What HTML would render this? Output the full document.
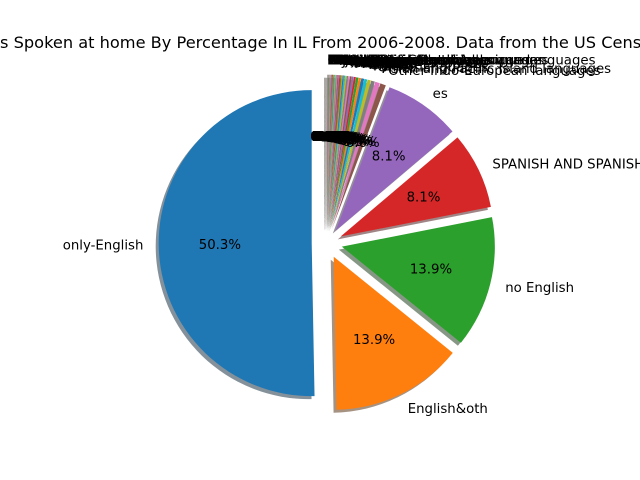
<!DOCTYPE html>
<html><head><meta charset="utf-8"><style>
body{margin:0;background:#fff}
svg{display:block;font-family:"DejaVu Sans","Liberation Sans",sans-serif}
</style></head><body>
<svg id="chart" width="640" height="480" viewBox="0 0 640 480">
<rect width="640" height="480" fill="#fff"/>
<text x="290" y="48" font-size="16.2" text-anchor="middle" fill="#000">Languages Spoken at home By Percentage In IL From 2006-2008. Data from the US Census</text>
<g id="wedges"></g>
<g id="labels"></g>
</svg>
<script>
const categories = ["only-English","English&oth","no English","SPANISH AND SPANISH CREOLE","es",
"Other Indo-European languages","Asian and Pacific Island languages","Other languages","Polish","Chinese",
"Tagalog","Arabic","German","Korean","Russian","Italian","Gujarati","Hindi","Urdu","Greek",
"French","Vietnamese","Japanese","Serbo-Croatian","Other Asian languages","Persian","Hebrew","Lithuanian","Ukrainian","Romanian",
"Thai","Portuguese","African languages","Hungarian","Other Slavic languages","Yiddish","Scandinavian languages","Armenian","Other Indic languages","Mon-Khmer",
"Laotian","Hmong","Miao","Navajo","Other Native North American languages","Other Pacific Island languages","Other West Germanic languages","French Creole","Other and unspecified languages","Formosan",
"Cajun","Pennsylvania Dutch","Bengali","Panjabi","Marathi"];
const values = [50.3,13.9,13.9,8.1,8.1,
0.6,0.5,0.4,0.35,0.3,0.3,0.25,0.25,0.2,0.2,
0.18,0.16,0.15,0.14,0.13,0.12,0.11,0.1,0.1,0.09,
0.09,0.08,0.08,0.07,0.07,0.06,0.06,0.05,0.05,0.05,
0.04,0.04,0.04,0.03,0.03,0.03,0.03,0.02,0.02,0.02,
0.02,0.02,0.01,0.01,0.01,0.01,0.01,0.01,0.01,0.01];
const palette = ["#1f77b4","#ff7f0e","#2ca02c","#d62728","#9467bd","#8c564b","#e377c2","#7f7f7f","#bcbd22","#17becf"];

const cx = 327, cy = 243, R = 153, EXP = 0.1;
const total = values.reduce((a,b)=>a+b,0);
const NS = "http://www.w3.org/2000/svg";
const wg = document.getElementById('wedges');
const lg = document.getElementById('labels');
function hex(c){return [1,3,5].map(i=>parseInt(c.substr(i,2),16));}
let a0 = 90;
values.forEach((v,i)=>{
  const sweep = 360*v/total, a1 = a0+sweep, mid = (a0+a1)/2*Math.PI/180;
  const ox = cx + EXP*R*Math.cos(mid), oy = cy - EXP*R*Math.sin(mid);
  const p = (ang,r,x,y)=>[x + r*Math.cos(ang*Math.PI/180), y - r*Math.sin(ang*Math.PI/180)];
  const mk = (x,y)=>{const s=p(a0,R,x,y), e=p(a1,R,x,y);
    return `M${x},${y}L${s[0]},${s[1]}A${R},${R} 0 ${sweep>180?1:0} 0 ${e[0]},${e[1]}Z`;};
  const col = palette[i%10], rgb = hex(col);
  const sh = document.createElementNS(NS,'path');
  sh.setAttribute('d', mk(ox-3, oy+3));
  sh.setAttribute('fill', `rgb(${rgb.map(c=>Math.round(c*0.3)).join(',')})`);
  sh.setAttribute('fill-opacity','0.5');
  
  
  wg.appendChild(sh);
  const w = document.createElementNS(NS,'path');
  w.setAttribute('d', mk(ox, oy));
  w.setAttribute('fill', col);
  
  
  wg.appendChild(w);
  const lx = ox + 1.1*R*Math.cos(mid), ly = oy - 1.1*R*Math.sin(mid);
  const t = document.createElementNS(NS,'text');
  t.setAttribute('x', lx); t.setAttribute('y', ly+5);
  t.setAttribute('font-size','13.3');
  t.setAttribute('text-anchor', Math.cos(mid) >= 0 ? 'start' : 'end');
  t.textContent = categories[i];
  
  
  lg.appendChild(t);
  const px = ox + 0.6*R*Math.cos(mid), py = oy - 0.6*R*Math.sin(mid);
  const q = document.createElementNS(NS,'text');
  q.setAttribute('x', px); q.setAttribute('y', py+5);
  q.setAttribute('font-size','13.3');
  q.setAttribute('text-anchor','middle');
  q.textContent = (100*v/total).toFixed(1)+'%';
  
  
  lg.appendChild(q);
  a0 = a1;
});
</script>
</body></html>
